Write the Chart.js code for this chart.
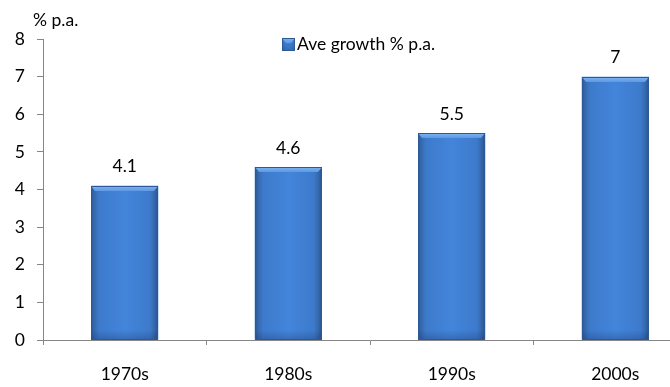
<!DOCTYPE html>
<html>
<head>
<meta charset="utf-8">
<script src="https://cdn.jsdelivr.net/npm/chart.js@4"></script>
<style>
  html, body { margin: 0; padding: 0; overflow: hidden; background: #ffffff; }
  #wrap { width: 700px; height: 387px; position: relative; }
</style>
</head>
<body>
<div id="wrap"><canvas id="c"></canvas></div>
<script>
// Average annual growth by decade
const decades = ['1970s', '1980s', '1990s', '2000s'];
const growth = [4.1, 4.6, 5.5, 7];
const yTicks = [0, 1, 2, 3, 4, 5, 6, 7, 8];
const seriesName = 'Ave growth % p.a.';
const unitLabel = '% p.a.';

const FONT = 'Lato, "Open Sans", sans-serif';
const AXIS = '#868686';

// Paint a bevelled blue column inside the given rectangle
function paintColumn(ctx, x0, x1, top, bottom) {
  const w = x1 - x0, h = bottom - top;
  if (w <= 0 || h <= 0) return;
  ctx.save();
  const g = ctx.createLinearGradient(x0, 0, x1, 0);
  g.addColorStop(0, '#2b5895');
  g.addColorStop(0.05, '#3669ad');
  g.addColorStop(0.12, '#3d7acc');
  g.addColorStop(0.5, '#4385da');
  g.addColorStop(0.88, '#3d7acc');
  g.addColorStop(0.95, '#3467a9');
  g.addColorStop(1, '#28528c');
  ctx.fillStyle = g;
  ctx.fillRect(x0, top, w, h);

  // darker foot
  const f = ctx.createLinearGradient(0, bottom - 10, 0, bottom);
  f.addColorStop(0, 'rgba(20,40,90,0)');
  f.addColorStop(1, 'rgba(20,40,90,0.28)');
  ctx.fillStyle = f;
  ctx.fillRect(x0, bottom - 10, w, 10);

  // light bevel along the top
  const bh = Math.min(5, h);
  ctx.beginPath();
  ctx.moveTo(x0, top);
  ctx.lineTo(x1, top);
  ctx.lineTo(x1 - 4, top + bh);
  ctx.lineTo(x0 + 4, top + bh);
  ctx.closePath();
  const t = ctx.createLinearGradient(0, top, 0, top + bh);
  t.addColorStop(0, '#7db4f2');
  t.addColorStop(1, '#5d99e2');
  ctx.fillStyle = t;
  ctx.fill();

  ctx.strokeStyle = '#2c5a98';
  ctx.lineWidth = 1;
  ctx.strokeRect(x0 + 0.5, top + 0.5, w - 1, h - 1);
  ctx.restore();
}

const decor = {
  id: 'decor',
  afterDatasetsDraw(chart) {
    const ctx = chart.ctx;
    const meta = chart.getDatasetMeta(0);
    meta.data.forEach((bar, i) => {
      const x0 = Math.round(bar.x - bar.width / 2);
      const x1 = Math.round(bar.x + bar.width / 2);
      paintColumn(ctx, x0, x1, Math.round(bar.y), Math.round(bar.base));
      ctx.save();
      ctx.fillStyle = '#000000';
      ctx.font = '17.5px ' + FONT;
      ctx.textAlign = 'center';
      ctx.textBaseline = 'middle';
      ctx.fillText(String(chart.data.datasets[0].data[i]), bar.x, bar.y - 19);
      ctx.restore();
    });
  },
  afterDraw(chart) {
    const ctx = chart.ctx;
    ctx.save();
    ctx.fillStyle = '#000000';
    ctx.font = '17.5px ' + FONT;
    ctx.textBaseline = 'middle';
    ctx.textAlign = 'left';
    ctx.fillText(unitLabel, 33, 20);
    // legend
    paintColumn(ctx, 282, 295, 38, 51);
    ctx.fillStyle = '#000000';
    ctx.fillText(seriesName, 297, 44);
    ctx.restore();
  }
};

new Chart(document.getElementById('c'), {
  type: 'bar',
  data: {
    labels: decades,
    datasets: [{
      label: seriesName,
      data: growth,
      backgroundColor: '#3d7bd0',
      borderWidth: 0,
      barPercentage: 0.41,
      categoryPercentage: 1
    }]
  },
  options: {
    responsive: true,
    maintainAspectRatio: false,
    animation: false,
    layout: { padding: { top: 39, right: 3, left: 0, bottom: 0 } },
    plugins: {
      legend: { display: false },
      tooltip: { enabled: false },
      title: { display: false }
    },
    scales: {
      x: {
        offset: true,
        grid: {
          offset: true,
          drawOnChartArea: false,
          tickLength: 5,
          color: AXIS
        },
        border: { display: true, color: AXIS, width: 1 },
        ticks: {
          color: '#000000',
          font: { family: FONT, size: 17.5 },
          padding: 19,
          maxRotation: 0
        },
        afterFit(scale) { scale.height = 47; }
      },
      y: {
        min: 0,
        max: 8,
        afterBuildTicks(scale) { scale.ticks = yTicks.map(v => ({ value: v })); },
        grid: {
          drawOnChartArea: false,
          tickLength: 6,
          color: AXIS
        },
        border: { display: true, color: AXIS, width: 1 },
        ticks: {
          color: '#000000',
          font: { family: FONT, size: 17.5 },
          padding: 12
        },
        afterFit(scale) { scale.width = 43; }
      }
    }
  },
  plugins: [decor]
});
</script>
</body>
</html>
